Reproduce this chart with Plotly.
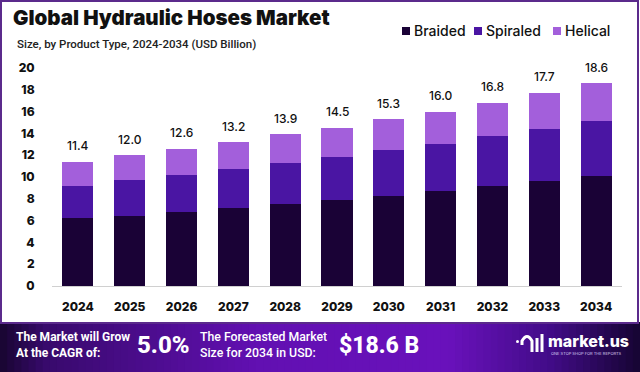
import plotly.graph_objects as go

years = ["2024", "2025", "2026", "2027", "2028", "2029", "2030", "2031", "2032", "2033", "2034"]
braided = [6.2, 6.4, 6.8, 7.15, 7.5, 7.9, 8.25, 8.7, 9.15, 9.6, 10.1]
spiraled = [3.0, 3.35, 3.4, 3.55, 3.8, 3.9, 4.2, 4.35, 4.6, 4.8, 5.05]
helical = [2.2, 2.25, 2.4, 2.5, 2.6, 2.7, 2.85, 2.95, 3.05, 3.3, 3.45]
totals = [11.4, 12.0, 12.6, 13.2, 13.9, 14.5, 15.3, 16.0, 16.8, 17.7, 18.6]
y_ticks = [0, 2, 4, 6, 8, 10, 12, 14, 16, 18, 20]
series_names = ["Braided", "Spiraled", "Helical"]

C_BRAIDED = "#1a0236"
C_SPIRALED = "#4a15a3"
C_HELICAL = "#a35fdb"
COLORS = [C_BRAIDED, C_SPIRALED, C_HELICAL]
FONT = "Inter"
FONT2 = "Roboto"

W, H = 640, 372
ML, MR, MT, MB = 52, 18, 57, 86
PW, PH = W - ML - MR, H - MT - MB


def px(x):
    return (x - ML) / PW


def py(y):
    return (H - MB - y) / PH


fig = go.Figure()
for name, vals, col in zip(series_names, [braided, spiraled, helical], COLORS):
    fig.add_trace(go.Bar(x=years, y=vals, name=name, marker=dict(color=col, line=dict(width=0)),
                         width=0.6, hoverinfo="skip", showlegend=False))

annotations = []
for i, tot in enumerate(totals):
    annotations.append(dict(x=i, y=tot, xref="x", yref="y", text=f"{tot:.1f}", showarrow=False,
                            yanchor="middle", yshift=16,
                            font=dict(family=FONT, size=12, color="#111111", weight=500)))

shapes = []
# bottom banner gradient
stops = [(0.0, (24, 6, 48)), (0.07, (56, 10, 108)), (0.4, (98, 16, 178)), (0.7, (106, 18, 188)),
         (0.86, (66, 12, 136)), (1.0, (22, 5, 50))]
n = 90
for i in range(n):
    t = (i + 0.5) / n
    c = stops[-1][1]
    for j in range(len(stops) - 1):
        if stops[j][0] <= t <= stops[j + 1][0]:
            a, ca = stops[j]
            b, cb = stops[j + 1]
            f = (t - a) / (b - a)
            c = tuple(int(ca[k] + (cb[k] - ca[k]) * f) for k in range(3))
            break
    shapes.append(dict(type="rect", xref="paper", yref="paper",
                       x0=px(W * i / n), x1=px(W * (i + 1) / n + 1),
                       y0=py(H + 1), y1=py(322),
                       fillcolor="rgb(%d,%d,%d)" % c, line=dict(width=0), layer="above"))
# border
shapes.append(dict(type="rect", xref="paper", yref="paper",
                   x0=px(1), x1=px(638), y0=py(323), y1=py(1),
                   line=dict(color="#5b2a8c", width=2), fillcolor="rgba(0,0,0,0)"))
# logo icon
shapes.append(dict(type="path", xref="paper", yref="paper",
                   path="M %f %f L %f %f Q %f %f %f %f L %f %f" % (
                       px(522), py(345), px(522), py(341), px(527), py(332), px(532), py(341), px(532), py(352)),
                   line=dict(color="white", width=3)))
shapes.append(dict(type="circle", xref="paper", yref="paper", x0=px(516), x1=px(519), y0=py(343), y1=py(340),
                   fillcolor="white", line=dict(width=0)))
shapes.append(dict(type="line", xref="paper", yref="paper", x0=px(537), x1=px(537), y0=py(338), y1=py(352),
                   line=dict(color="white", width=3)))
shapes.append(dict(type="line", xref="paper", yref="paper", x0=px(542), x1=px(542), y0=py(334), y1=py(352),
                   line=dict(color="white", width=3)))

# legend (manual)
legend_x = [402, 474, 553]
for lx, name, col in zip(legend_x, series_names, COLORS):
    shapes.append(dict(type="rect", xref="paper", yref="paper", x0=px(lx), x1=px(lx + 8),
                       y0=py(35), y1=py(27), fillcolor=col, line=dict(width=0)))
    annotations.append(dict(text=name, x=px(lx + 10), y=py(31), xanchor="left", yanchor="middle",
                            xref="paper", yref="paper", showarrow=False,
                            font=dict(family=FONT, size=14, color="#111111", weight=500)))

deco = [
    dict(text="Global Hydraulic Hoses Market", x=px(11), y=py(18), xanchor="left", yanchor="middle",
         font=dict(family=FONT, size=20.5, color="#111111", weight=900)),
    dict(text="Size, by Product Type, 2024-2034 (USD Billion)", x=px(15), y=py(44), xanchor="left", yanchor="middle",
         font=dict(family=FONT2, size=11.5, color="#222222", weight=500)),
    dict(text="The Market will Grow<br>At the CAGR of:", x=px(14), y=py(345), xanchor="left", yanchor="middle",
         align="left", font=dict(family=FONT2, size=12, color="white", weight=700)),
    dict(text="5.0%", x=px(135), y=py(345), xanchor="left", yanchor="middle",
         font=dict(family=FONT2, size=24, color="white", weight=800)),
    dict(text="The Forecasted Market<br>Size for 2034 in USD:", x=px(198), y=py(345), xanchor="left", yanchor="middle",
         align="left", font=dict(family=FONT2, size=12.3, color="white", weight=500)),
    dict(text="$18.6 B", x=px(337), y=py(345), xanchor="left", yanchor="middle",
         font=dict(family=FONT2, size=23, color="white", weight=800)),
    dict(text="market.us", x=px(546), y=py(341), xanchor="left", yanchor="middle",
         font=dict(family=FONT, size=16, color="white", weight=800)),
    dict(text="ONE STOP SHOP FOR THE REPORTS", x=px(549), y=py(353), xanchor="left", yanchor="middle",
         font=dict(family=FONT, size=4, color="#d8c8f0")),
]
for a in deco:
    a.update(xref="paper", yref="paper", showarrow=False)
annotations += deco

fig.update_layout(
    width=W, height=H, autosize=False,
    margin=dict(l=ML, r=MR, t=MT, b=MB, autoexpand=False),
    paper_bgcolor="white", plot_bgcolor="white",
    barmode="stack", bargap=0.4,
    showlegend=False,
    xaxis=dict(type="category", range=[-0.5, 10.5], showgrid=False, showline=True, linecolor="#d0d0d0",
               linewidth=1, ticks="outside", ticklen=0, ticklabelstandoff=10,
               tickfont=dict(family=FONT, size=12, color="#111111", weight=800), fixedrange=True),
    yaxis=dict(range=[0, 21], tickvals=y_ticks, showgrid=False, zeroline=False, showline=False,
               ticks="outside", ticklen=0, ticklabelstandoff=14,
               tickfont=dict(family=FONT, size=12, color="#111111", weight=800), fixedrange=True),
    shapes=shapes, annotations=annotations,
)

fig.write_html("out.html", config={"displayModeBar": False},
               post_script="document.body.style.margin='0';document.body.style.overflow='hidden';")
